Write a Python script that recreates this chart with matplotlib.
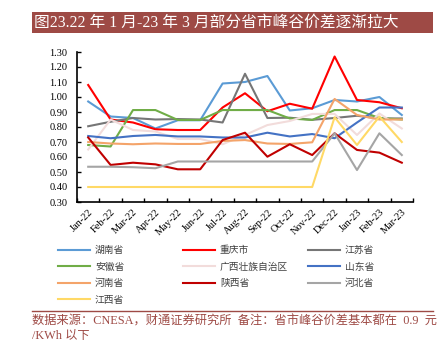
import numpy as np
import matplotlib
matplotlib.use("Agg")
import matplotlib.pyplot as plt
from matplotlib.lines import Line2D
from matplotlib.patches import Rectangle

plt.rcParams['font.family'] = ['Liberation Serif', 'Noto Sans CJK SC', 'DejaVu Sans']

# Data
months = ["Jan-22", "Feb-22", "Mar-22", "Apr-22", "May-22", "Jun-22", "Jul-22", "Aug-22",
          "Sep-22", "Oct-22", "Nov-22", "Dec-22", "Jan-23", "Feb-23", "Mar-23"]

hunan     = [0.97, 0.87, 0.86, 0.79, 0.845, 0.845, 1.09, 1.10, 1.14, 0.91, 0.925, 0.98, 0.97, 1.00, 0.88]
chongqing = [1.08, 0.85, 0.83, 0.785, 0.78, 0.78, 0.93, 1.025, 0.905, 0.955, 0.922, 1.27, 0.98, 0.965, 0.925]
jiangsu   = [0.805, 0.835, 0.86, 0.85, 0.853, 0.85, 0.83, 1.155, 0.86, 0.862, 0.848, 0.86, 0.875, 0.857, 0.857]
anhui     = [0.68, 0.67, 0.913, 0.913, 0.847, 0.847, 0.913, 0.913, 0.913, 0.857, 0.847, 0.913, 0.913, 0.86, 0.85]
guangxi   = [0.65, 0.85, 0.78, 0.77, 0.72, 0.72, 0.685, 0.747, 0.813, 0.84, 0.887, 0.887, 0.747, 0.89, 0.79]
shandong  = [0.74, 0.725, 0.74, 0.747, 0.737, 0.737, 0.73, 0.73, 0.762, 0.737, 0.753, 0.725, 0.83, 0.93, 0.93]
henan     = [0.70, 0.69, 0.685, 0.69, 0.687, 0.687, 0.707, 0.713, 0.69, 0.687, 0.698, 0.987, 0.88, 0.85, 0.85]
shaanxi   = [0.73, 0.547, 0.562, 0.551, 0.518, 0.518, 0.713, 0.762, 0.602, 0.685, 0.613, 0.758, 0.647, 0.629, 0.562]
hebei     = [0.535, 0.535, 0.532, 0.525, 0.57, 0.57, 0.57, 0.57, 0.57, 0.57, 0.57, 0.758, 0.513, 0.758, 0.613]
jiangxi   = [0.40, 0.40, 0.40, 0.40, 0.40, 0.40, 0.40, 0.40, 0.40, 0.40, 0.40, 0.865, 0.68, 0.87, 0.70]

series = [
    ("湖南省", hunan, "#5B9BD5"),
    ("重庆市", chongqing, "#FF0000"),
    ("江苏省", jiangsu, "#767676"),
    ("安徽省", anhui, "#70AD47"),
    ("广西壮族自治区", guangxi, "#F2DCDB"),
    ("山东省", shandong, "#4472C4"),
    ("河南省", henan, "#F4A46A"),
    ("陕西省", shaanxi, "#C00000"),
    ("河北省", hebei, "#A5A5A5"),
    ("江西省", jiangxi, "#FFD966"),
]

brand = "#9E4A45"

fig = plt.figure(figsize=(4.4, 3.43), dpi=100)
ax = fig.add_axes([77 / 440, 1 - 202 / 343, (413 - 77) / 440, (202 - 52) / 343])

x = np.arange(len(months))
handles = {}
for name, vals, color in series:
    ln, = ax.plot(x, vals, color=color, lw=1.5, label=name)
    handles[name] = ln

ax.set_xlim(-0.5, len(months) - 0.5)
ax.set_ylim(0.3, 1.3)
ax.set_yticks(np.arange(0.3, 1.31, 0.1))
ax.set_yticklabels([f"{v:.2f}" for v in np.arange(0.3, 1.31, 0.1)], fontsize=7.5)

# tick marks between categories, labels at centers
ax.set_xticks(np.arange(-0.5, len(months), 1.0))
ax.set_xticklabels([])
ax.set_xticks(x, minor=True)
ax.set_xticklabels(months, minor=True, rotation=45, ha="right", va="top",
                   rotation_mode="anchor", fontsize=7.5)
ax.tick_params(axis="x", which="minor", length=0, pad=4)
ax.tick_params(axis="both", which="major", direction="in", length=3, width=1, color="black")
ax.tick_params(axis="y", pad=7)

for s in ["top", "right"]:
    ax.spines[s].set_visible(False)
for s in ["left", "bottom"]:
    ax.spines[s].set_linewidth(1.2)
    ax.spines[s].set_color("black")

# legend in three columns
cols = [["湖南省", "安徽省", "河南省", "江西省"],
        ["重庆市", "广西壮族自治区", "陕西省"],
        ["江苏省", "山东省", "河北省"]]
col_x = [58 / 440, 183 / 440, 308 / 440]
for cx, names in zip(col_x, cols):
    fig.legend([handles[n] for n in names], names, loc="upper left",
               bbox_to_anchor=(cx, 1 - 245 / 343), frameon=False,
               prop={"family": ["Noto Sans CJK SC"], "size": 7},
               labelcolor="#404040",
               handlelength=3.3, handletextpad=0.5, labelspacing=0.68,
               borderpad=0, borderaxespad=0)

# title bar
fig.add_artist(Rectangle((32 / 440, 1 - 33 / 343), (433 - 32) / 440, 21 / 343,
                         transform=fig.transFigure, fc=brand, ec="none"))
fig.text(34 / 440, 1 - 22.5 / 343, "图23.22 年 1 月-23 年 3 月部分省市峰谷价差逐渐拉大",
         color="white", fontsize=11.3, va="center", ha="left")

# footer
fig.add_artist(Line2D([32 / 440, 433 / 440], [1 - 311 / 343, 1 - 311 / 343],
                      color=brand, lw=1.0))
fig.text(32 / 440, 1 - 321 / 343,
         "数据来源：CNESA，财通证券研究所  备注：省市峰谷价差基本都在  0.9  元",
         color=brand, fontsize=8.8, va="center", ha="left")
fig.text(32 / 440, 1 - 336 / 343, "/KWh 以下", color=brand, fontsize=8.8,
         va="center", ha="left")

fig.savefig("out.png", dpi=100)
